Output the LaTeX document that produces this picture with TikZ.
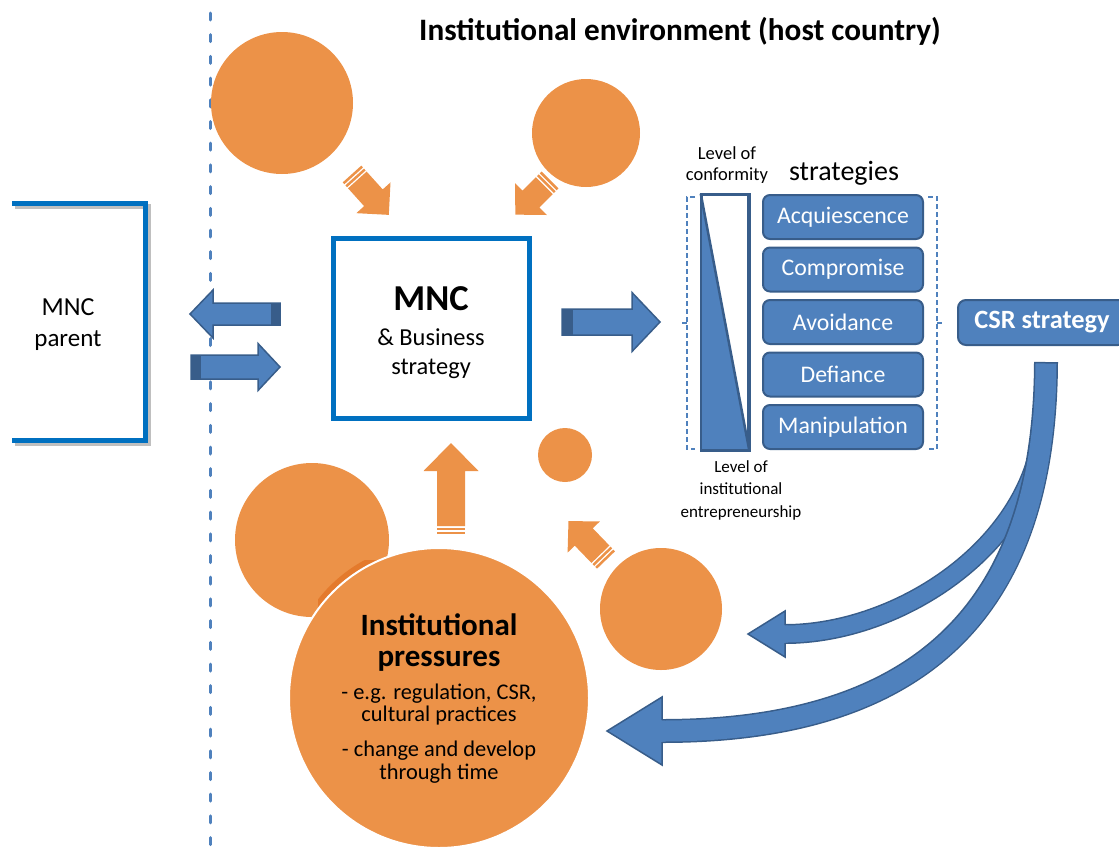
\documentclass[tikz,border=0pt]{standalone}
\usepackage{fontspec}
\setmainfont{Carlito}
\usetikzlibrary{shadows}

\definecolor{accblue}{RGB}{79,129,189}
\definecolor{accedge}{RGB}{56,93,138}
\definecolor{boxblue}{RGB}{0,112,192}
\definecolor{accorange}{RGB}{236,146,72}
\definecolor{deeporange}{RGB}{228,122,44}

\newcommand\fs[1]{\fontsize{#1}{#1}\selectfont}

% striped block arrow: tail x, tail y, angle, length, body width, head width, head length
\newcommand\stripearrow[7]{%
  \begin{scope}[shift={(#1,#2)},rotate=#3]
    \fill[accorange] (0,-#5/2) rectangle (2.5,#5/2);
    \fill[accorange] (4,-#5/2) rectangle (6.5,#5/2);
    \fill[accorange] (8,-#5/2) -- (#4-#7,-#5/2) -- (#4-#7,-#6/2) -- (#4,0)
      -- (#4-#7,#6/2) -- (#4-#7,#5/2) -- (8,#5/2) -- cycle;
  \end{scope}}

% outlined block arrow with a dark tail band:
% tail x, tail y, angle, length, body width, head width, head length, band width
\newcommand\blockarrow[8]{%
  \begin{scope}[shift={(#1,#2)},rotate=#3]
    \draw[accedge,line width=1.5,fill=accblue,line join=miter]
      (0,-#5/2) -- (#4-#7,-#5/2) -- (#4-#7,-#6/2) -- (#4,0)
      -- (#4-#7,#6/2) -- (#4-#7,#5/2) -- (0,#5/2) -- cycle;
    \fill[accedge] (0,-#5/2) rectangle (#8,#5/2);
  \end{scope}}

\begin{document}
\begin{tikzpicture}[x=1pt,y=-1pt,
  blob/.style={fill=accorange},
  strat/.style={rectangle,rounded corners=7,fill=accblue,draw=accedge,line width=2,
    minimum width=160,minimum height=44,text=white,font=\fs{23.8},inner sep=0},
  bracket/.style={accblue,line width=1.8,dash pattern=on 5pt off 3pt},
  plain/.style={inner sep=0,anchor=base}]
\useasboundingbox (0,0) rectangle (1119,846);

% host-country border
\draw[accblue,line width=3,line cap=round,dash pattern=on 7pt off 14.7pt] (210,13) -- (210,846);

% title
\node[plain,font=\bfseries\fs{31.2}] (title) at (680,40) {Institutional environment (host country)};

% institutional circles
\fill[blob] (282,103) circle (71);
\fill[blob] (586,133) circle (54);
\fill[blob] (565,455) circle (27);
\fill[blob] (661,609) circle (61);
\fill[blob] (312,540) circle (77);
\begin{scope}
  \clip (318,560) rectangle (400,620);
  \clip (312,540) circle (77);
  \fill[deeporange] (436,692) circle (150);
\end{scope}
\draw[blob,draw=white,line width=2] (439,698) circle (150);

% pressures acting on the subsidiary
\stripearrow{352}{174}{-48}{55}{25}{46}{23}
\stripearrow{550}{180}{-135}{49}{24}{45}{22}
\stripearrow{451}{534}{90}{91}{28}{55}{28}
\stripearrow{606}{560}{134}{54}{25}{45}{22}

% MNC parent (open frame)
\draw[black,opacity=0.25,line width=5] (15,206) -- (148,206) -- (148,443) -- (15,443);
\draw[boxblue,line width=5] (12,203) -- (145,203) -- (145,440) -- (12,440);
\node[plain,font=\fs{26}] (parent1) at (68,315) {MNC};
\node[plain,font=\fs{25}] (parent2) at (68,346) {parent};

% subsidiary
\node[draw=boxblue,line width=5,fill=white,minimum width=196,minimum height=180,
  drop shadow={opacity=0.25,shadow xshift=3pt,shadow yshift=-3pt}] (mnc) at (431,328) {};
\node[plain,font=\bfseries\fs{36.5}] (mnc1) at (mnc.center|-0,310) {MNC};
\node[plain,font=\fs{24.4}] (mnc2) at (mnc.center|-0,345) {\& Business};
\node[plain,font=\fs{24.4}] (mnc3) at (mnc.center|-0,374) {strategy};

% parent <-> subsidiary, subsidiary -> strategies
\blockarrow{280}{314}{180}{90}{22}{48}{23}{9}
\blockarrow{191}{367}{0}{89}{24}{47}{22}{10}
\blockarrow{562}{322}{0}{98}{26}{59}{28}{11}

% level scale
\node[plain,font=\fs{18.5}] (lc1) at (727,159) {Level of};
\node[plain,font=\fs{18.5}] (lc2) at (727,180) {conformity};
\node[draw=accedge,line width=2.5,fill=white,minimum width=46,minimum height=254,inner sep=0] (scale) at (725,322) {};
\fill[accblue] (scale.north west) -- (scale.south east) -- (scale.south west) -- cycle;
\draw[accedge,line width=2.5] (scale.north west) rectangle (scale.south east);
\draw[accedge,line width=2.5] (scale.north west) -- (scale.south east);
\node[plain,font=\fs{17}] (le1) at (741,472) {Level of};
\node[plain,font=\fs{17}] (le2) at (741,494) {institutional};
\node[plain,font=\fs{17}] (le3) at (741,517) {entrepreneurship};

% response strategies
\node[plain,font=\fs{28}] (strh) at (844,180) {strategies};
\node[strat] (s1) at (843,217) {Acquiescence};
\node[strat] (s2) at (843,269.5) {Compromise};
\node[strat] (s3) at (843,322) {Avoidance};
\node[strat] (s4) at (843,374.5) {Defiance};
\node[strat] (s5) at (843,427) {Manipulation};

% brackets around the strategy set
\draw[bracket] (695,197) -- (687,197) -- (687,449) -- (695,449);
\draw[bracket] (687,323) -- (681,323);
\draw[bracket] (928,197) -- (937,197) -- (937,449) -- (928,449);
\draw[bracket] (937,323) -- (944,323);

% CSR strategy
\node[strat,minimum width=168,minimum height=45,rounded corners=8,font=\bfseries\fs{26.4}] (csr) at (1042,322.5) {CSR strategy};

% feedback from CSR strategy into the institutional environment
\draw[accedge,line width=20] (1043,425) .. controls (1034,545) and (900,634) .. (785,634);
\draw[accblue,line width=17] (1043,425) .. controls (1034,545) and (900,634) .. (785,634);
\fill[accblue] (788,625.5) -- (785,625.5) -- (785,611) -- (748,634) -- (785,657) -- (785,642.5) -- (788,642.5) -- cycle;
\draw[accedge,line width=1.5,line join=miter] (785,625) -- (785,611) -- (748,634) -- (785,657) -- (785,643);

\draw[accedge,line width=24] (1046,362) .. controls (1045,580) and (950,731) .. (662,731);
\draw[accblue,line width=21,shorten <=1.5] (1046,362) .. controls (1045,580) and (950,731) .. (662,731);
\fill[accblue] (665,720.5) -- (662,720.5) -- (662,697) -- (607,731) -- (662,765) -- (662,741.5) -- (665,741.5) -- cycle;
\draw[accedge,line width=1.5,line join=miter] (662,720) -- (662,697) -- (607,731) -- (662,765) -- (662,742);

% pressures text
\node[plain,font=\bfseries\fs{31}] (ip1) at (439,635) {Institutional};
\node[plain,font=\bfseries\fs{31}] (ip2) at (439,666) {pressures};
\node[plain,font=\fs{22.4}] (ip3) at (439,699) {- e.g. regulation, CSR,};
\node[plain,font=\fs{22.4}] (ip4) at (439,721) {cultural practices};
\node[plain,font=\fs{22.4}] (ip5) at (439,756) {- change and develop};
\node[plain,font=\fs{22.4}] (ip6) at (439,779) {through time};
\end{tikzpicture}
\end{document}
